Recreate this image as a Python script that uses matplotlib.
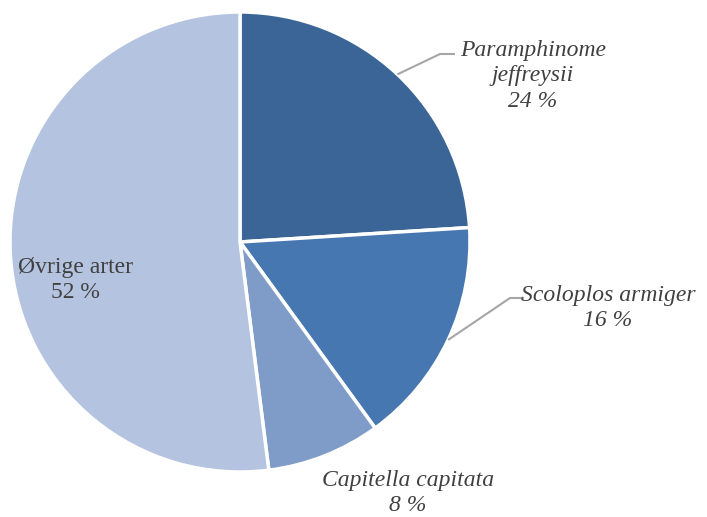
import numpy as np
import matplotlib
matplotlib.use("Agg")
import matplotlib.pyplot as plt

# Species share of individuals
species = ["Paramphinome\njeffreysii", "Scoloplos armiger", "Capitella capitata", "Øvrige arter"]
shares = [24, 16, 8, 52]
italic = [True, True, True, False]
colors = ["#3B6596", "#4777B0", "#7F9CC9", "#B4C3DF"]

W, H, DPI = 707, 517, 100
fig = plt.figure(figsize=(W / DPI, H / DPI), dpi=DPI)
ax = fig.add_axes([0, 0, 1, 1])
ax.set_axis_off()

# pixel geometry of the pie
cx, cy, R = 240.0, 242.0, 230.0

wedges, _ = ax.pie(shares, colors=colors, startangle=90, counterclock=False,
                   radius=1.0, center=(0, 0),
                   wedgeprops=dict(edgecolor="white", linewidth=2.5))

ax.set_aspect("auto")
ax.set_xlim(-cx / R, (W - cx) / R)
ax.set_ylim(-(H - cy) / R, cy / R)

def px(x, y):
    return ((x - cx) / R, (cy - y) / R)

text_kw = dict(family="Liberation Serif", fontsize=17, color="#404040",
               ha="center", va="center", linespacing=1.3)

# label anchors (pixel positions) and optional leader elbow
label_pos = [(533, 76), (608, 308), (408, 493), (75, 280)]
elbows = [((440, 54), (455, 54)), ((510, 298), (524, 298)), None, None]

for w, name, val, it, pos, elb in zip(wedges, species, shares, italic, label_pos, elbows):
    txt = f"{name}\n{val} %"
    ax.text(*px(*pos), txt, style="italic" if it else "normal", **text_kw)
    if elb is not None:
        ang = np.deg2rad((w.theta1 + w.theta2) / 2)
        x0, y0 = np.cos(ang) * 1.0, np.sin(ang) * 1.0
        (ex, ey), (hx, hy) = elb
        p1 = px(ex, ey)
        p2 = px(hx, hy)
        ax.plot([x0, p1[0], p2[0]], [y0, p1[1], p2[1]], color="#A6A6A6", lw=1.5,
                solid_capstyle="butt")

fig.savefig("out.png", dpi=DPI, facecolor="white")
